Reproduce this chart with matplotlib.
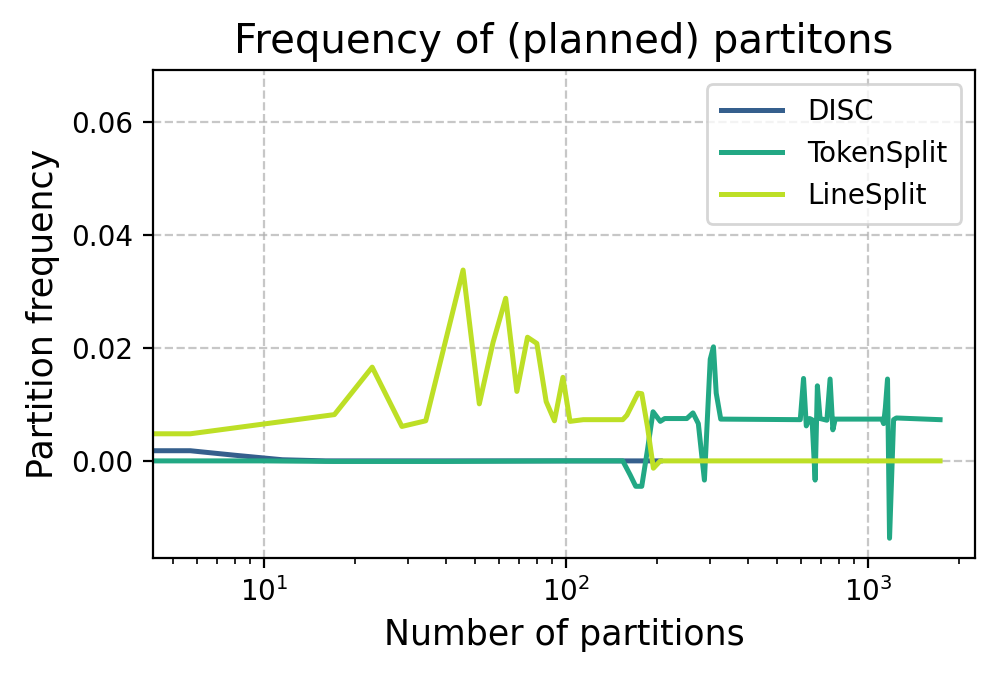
import numpy as np
import matplotlib.pyplot as plt

# planned partition counts / frequencies
disc_n = [4.3, 5.7, 8.0, 11.5, 16.0, 40.0, 100.0, 160.0, 205.0]
disc_f = [0.0018, 0.0018, 0.0010, 0.0002, 0.0, 0.0, 0.0, 0.0, 0.0]

token_n = [4.3, 10.0, 17.0, 40.0, 100.0, 154.0, 163.0, 170.0, 178.0, 186.0, 194.0, 205.0,
           212.0, 251.0, 263.0, 274.0, 287.0, 300.0, 307.5, 314.0, 325.0, 596.0, 611.0,
           624.0, 640.0, 652.0, 667.5, 679.0, 693.0, 730.0, 748.0, 764.0, 778.0, 1110.0,
           1125.0, 1140.0, 1159.0, 1177.0, 1214.0, 1240.0, 1730.0]
token_f = [0.0, 0.0, -0.0001, -0.0001, 0.0, 0.0, -0.0025, -0.0045, -0.0045, 0.002,
           0.0087, 0.0070, 0.0075, 0.0075, 0.0085, 0.0066, -0.0034, 0.0180, 0.0202,
           0.0120, 0.0074, 0.0073, 0.0146, 0.0062, 0.0075, 0.0073, -0.0034, 0.0133,
           0.0075, 0.0072, 0.0145, 0.0055, 0.0074, 0.0074, 0.0066, 0.0094, 0.0145,
           -0.0137, 0.0073, 0.0076, 0.0073]

line_n = [4.3, 5.7, 17.1, 22.8, 28.6, 34.3, 45.6, 51.6, 57.3, 63.1, 68.7, 74.5, 80.0,
          85.9, 91.5, 97.6, 103.0, 114.0, 154.0, 159.0, 173.0, 178.0, 186.0, 194.5,
          205.0, 1730.0]
line_f = [0.0048, 0.0048, 0.0082, 0.0166, 0.0061, 0.0071, 0.0338, 0.0101, 0.0210,
          0.0288, 0.0123, 0.0219, 0.0208, 0.0105, 0.0071, 0.0148, 0.0070, 0.0073,
          0.0073, 0.0081, 0.0120, 0.0119, 0.0060, -0.0013, 0.0, 0.0]

cmap = plt.get_cmap('viridis')

fig = plt.figure(figsize=(4.985, 3.405), dpi=200)
ax = fig.add_subplot(111)
fig.subplots_adjust(left=0.1535, right=0.978, top=0.897, bottom=0.1806)

ax.plot(disc_n, disc_f, color=cmap(0.3), lw=1.8, label='DISC')
ax.plot(token_n, token_f, color=cmap(0.6), lw=1.8, label='TokenSplit')
ax.plot(line_n, line_f, color=cmap(0.9), lw=1.8, label='LineSplit')

ax.set_xscale('log')
ax.set_xlim(4.29, 2259)
ax.set_ylim(-0.0172, 0.0692)
ax.grid(True, linestyle='--', alpha=0.7)

ax.set_title('Frequency of (planned) partitons', fontsize=14.5)
ax.set_xlabel('Number of partitions', fontsize=12.5)
ax.set_ylabel('Partition frequency', fontsize=12.5)
ax.legend(loc='upper right', fontsize=10, handlelength=2.2, handletextpad=0.9,
          borderpad=0.5)

fig.savefig('out.png', dpi=200)
